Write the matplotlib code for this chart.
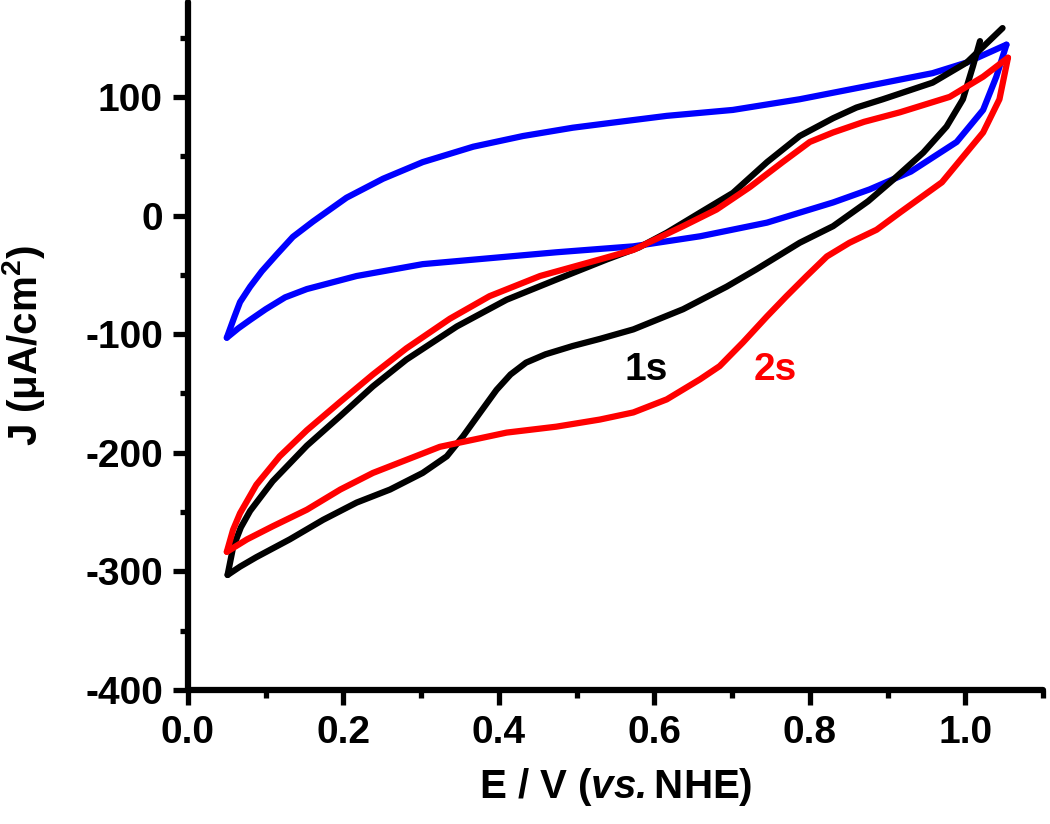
# Cyclic voltammograms - blank, 1s and 2s samples
import matplotlib
matplotlib.use('Agg')
import matplotlib.pyplot as plt
from matplotlib.ticker import MultipleLocator, FormatStrFormatter

# Forward (upper) and reverse (lower) branches
blue_fwd_x = [0.05, 0.06, 0.067, 0.08, 0.095, 0.114, 0.135, 0.161, 0.204, 0.251, 0.302, 0.367, 0.431,
              0.495, 0.543, 0.616, 0.701, 0.787, 0.873, 0.958, 1.002, 1.053]
blue_fwd_y = [-103, -85, -73, -60, -47, -33, -18, -5, 15, 31, 45, 58, 67,
              74, 78, 84, 89, 98, 109, 120, 129, 144]
blue_rev_x = [1.053, 1.040, 1.023, 0.989, 0.93, 0.877, 0.830, 0.745, 0.659, 0.573, 0.474,
              0.388, 0.302, 0.217, 0.153, 0.125, 0.1, 0.08, 0.065, 0.05]
blue_rev_y = [144, 117, 89, 62, 37, 22, 11, -6, -17.5, -26, -31,
              -36, -41, -51, -62, -69, -79, -88, -95, -103]

red_fwd_x = [0.05, 0.058, 0.067, 0.088, 0.118, 0.153, 0.196, 0.238, 0.281, 0.337, 0.388, 0.453,
             0.53, 0.573, 0.637, 0.680, 0.723, 0.765, 0.800, 0.83, 0.870, 0.916, 0.980, 1.023, 1.055]
red_fwd_y = [-283.5, -265, -251, -227, -203, -181, -157, -134, -112, -87, -68, -51,
             -37, -29, -9, 5, 24, 45, 62, 70, 79, 87, 100, 117, 133]
red_rev_x = [1.055, 1.044, 1.023, 0.97, 0.916, 0.886, 0.851, 0.822, 0.796, 0.770, 0.745,
             0.714, 0.684, 0.659, 0.616, 0.573, 0.530, 0.474, 0.410, 0.367, 0.324, 0.281,
             0.238, 0.196, 0.153, 0.109, 0.076, 0.05]
red_rev_y = [133, 98, 70, 28, 2.5, -12, -23, -34.5, -51, -68, -85,
             -107, -127, -138, -155, -166, -172, -178, -183, -189, -195, -206,
             -217, -231, -248, -262, -273, -283.5]

black_fwd_x = [0.051, 0.058, 0.068, 0.080, 0.109, 0.153, 0.196, 0.238, 0.281, 0.346, 0.410, 0.474,
               0.539, 0.58, 0.616, 0.659, 0.701, 0.745, 0.787, 0.830, 0.86, 0.894, 0.958, 1.002, 1.048]
black_fwd_y = [-303, -280, -263, -249, -224, -194, -169, -144, -121.5, -93.5, -71, -54,
               -37, -27, -14.5, 2.5, 19, 45, 67, 82, 91, 98, 112, 129, 158]
black_rev_x = [1.019, 1.010, 0.997, 0.976, 0.946, 0.907, 0.875, 0.830, 0.787, 0.731, 0.693,
               0.637, 0.573, 0.530, 0.495, 0.46, 0.435, 0.415, 0.397, 0.376, 0.354, 0.333, 0.302,
               0.260, 0.217, 0.174, 0.131, 0.088, 0.067, 0.051]
black_rev_y = [147, 126, 98, 75, 53, 30, 12, -9, -23, -45.5, -60,
               -79, -96, -104, -110, -117, -124, -134, -147, -166, -186, -203, -217,
               -231, -242, -256.5, -273, -288, -296, -303]

# Fonts - bold Helvetica look
plt.rcParams['font.family'] = 'Liberation Sans'
plt.rcParams['font.weight'] = 'bold'
plt.rcParams['axes.unicode_minus'] = False
plt.rcParams['mathtext.fontset'] = 'custom'
plt.rcParams['mathtext.rm'] = 'Liberation Sans:bold'
plt.rcParams['mathtext.bf'] = 'Liberation Sans:bold'
plt.rcParams['mathtext.it'] = 'Liberation Sans:bold:italic'
plt.rcParams['mathtext.bfit'] = 'Liberation Sans:bold:italic'
plt.rcParams['mathtext.default'] = 'rm'

fig = plt.figure(figsize=(10.5, 8.24), dpi=100)
ax = fig.add_axes([0.179, 0.1626, 0.8143, 0.835])

lw = 4.5
style = dict(lw=lw, solid_capstyle='round', solid_joinstyle='round')
ax.plot(blue_fwd_x, blue_fwd_y, color='#0000ff', **style)
ax.plot(blue_rev_x, blue_rev_y, color='#0000ff', **style)
ax.plot(black_fwd_x, black_fwd_y, color='black', **style)
ax.plot(black_rev_x, black_rev_y, color='black', **style)
ax.plot(red_fwd_x, red_fwd_y, color='#ff0000', **style)
ax.plot(red_rev_x, red_rev_y, color='#ff0000', **style)

# labels on the curves
ax.text(0.59, -130, '1s', color='black', fontsize=28, fontweight='bold', ha='center', va='center')
ax.text(0.755, -130, '2s', color='#ff0000', fontsize=28, fontweight='bold', ha='center', va='center')

# Axis ranges and ticks
ax.set_xlim(0, 1.1)
ax.set_ylim(-400, 180)
ax.xaxis.set_major_locator(MultipleLocator(0.2))
ax.xaxis.set_minor_locator(MultipleLocator(0.1))
ax.yaxis.set_major_locator(MultipleLocator(100))
ax.yaxis.set_minor_locator(MultipleLocator(50))
ax.xaxis.set_major_formatter(FormatStrFormatter('%.1f'))
ax.yaxis.set_major_formatter(FormatStrFormatter('%d'))

ax.spines['top'].set_visible(False)
ax.spines['right'].set_visible(False)
for s in ['left', 'bottom']:
    ax.spines[s].set_linewidth(4.5)
    ax.spines[s].set_capstyle('round')

ax.tick_params(which='major', direction='out', length=11, width=3.8, labelsize=28, pad=7)
ax.tick_params(which='minor', direction='out', length=6, width=3.8)

# Axis titles
ax.set_xlabel(r'E / V ($\mathbfit{vs.}$NHE)', fontsize=29, fontweight='bold')
ax.set_ylabel(r'J ($\mu$A/cm$^2$)', fontsize=29, fontweight='bold')
ax.xaxis.set_label_coords(0.5, -0.11)
ax.yaxis.set_label_coords(-0.165, 0.5)

plt.savefig('out.png', dpi=100)
